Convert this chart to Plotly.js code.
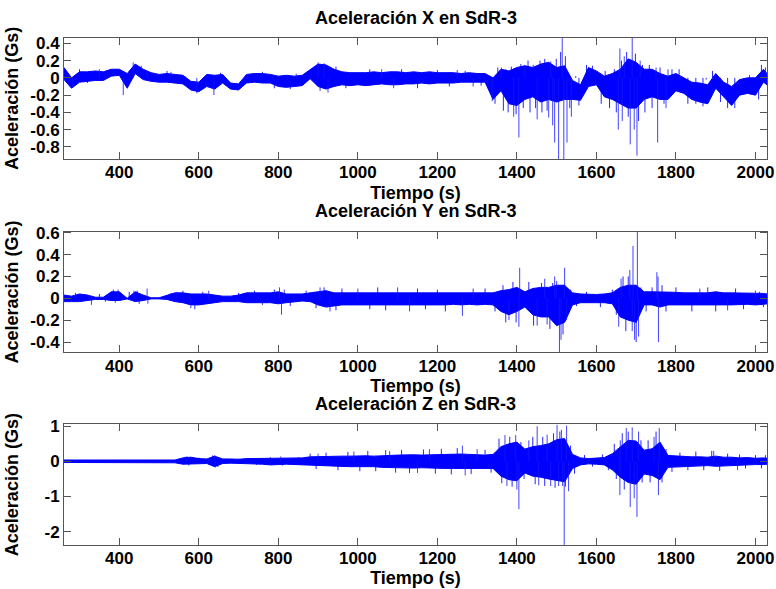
<!DOCTYPE html>
<html><head><meta charset="utf-8">
<script src="https://cdn.plot.ly/plotly-3.0.1.min.js"></script>
<style>html,body{margin:0;padding:0;background:#fff}#chart{width:776px;height:589px}</style>
</head><body><div id="chart"></div>
<script>
// Time grid (s) at which the dense-band envelopes were read
const tGrid = [261,280,300,320,340,360,380,400,420,440,
  460,480,500,520,540,560,580,600,620,640,
  660,680,700,720,740,760,780,800,820,840,
  860,880,900,920,940,960,980,1000,1020,1040,
  1060,1080,1100,1120,1140,1160,1180,1200,1220,1240,
  1260,1280,1300,1320,1340,1360,1380,1400,1420,1440,
  1460,1480,1500,1520,1540,1560,1580,1600,1620,1640,
  1660,1680,1700,1720,1740,1760,1780,1800,1820,1840,
  1860,1880,1900,1920,1940,1960,1980,2000,2020,2029];

// ---------- Acceleration X ----------
const xHi = [0.12,0.00,0.07,0.07,0.08,0.07,0.10,0.10,0.05,0.16,
  0.10,0.06,0.04,0.05,0.04,0.03,-0.04,-0.05,0.04,0.03,
  0.04,-0.06,-0.07,0.04,0.05,0.05,0.04,0.02,0.03,0.02,
  0.03,0.10,0.16,0.15,0.10,0.07,0.06,0.06,0.06,0.07,
  0.06,0.07,0.07,0.06,0.07,0.06,0.07,0.06,0.06,0.06,
  0.05,0.06,0.05,0.05,0.00,0.10,0.08,0.12,0.14,0.12,
  0.16,0.18,0.12,0.14,-0.03,-0.08,0.12,0.08,0.02,0.05,
  0.10,0.22,0.18,0.10,0.10,0.05,0.02,0.05,0.00,-0.05,
  -0.06,-0.08,0.05,-0.05,-0.10,-0.02,0.00,0.00,0.10,0.05];
const xLo = [-0.02,-0.12,-0.05,-0.04,-0.03,-0.03,0.02,0.03,-0.12,0.05,
  -0.02,-0.04,-0.05,-0.05,-0.06,-0.07,-0.14,-0.16,-0.10,-0.13,
  -0.06,-0.13,-0.14,-0.06,-0.05,-0.06,-0.06,-0.10,-0.11,-0.10,
  -0.09,-0.01,-0.10,-0.13,-0.10,-0.08,-0.09,-0.08,-0.09,-0.08,
  -0.07,-0.08,-0.08,-0.07,-0.07,-0.06,-0.07,-0.06,-0.06,-0.06,
  -0.05,-0.05,-0.05,-0.05,-0.25,-0.15,-0.30,-0.32,-0.25,-0.22,
  -0.28,-0.25,-0.28,-0.25,-0.25,-0.26,-0.10,-0.08,-0.22,-0.25,
  -0.30,-0.35,-0.35,-0.25,-0.22,-0.25,-0.25,-0.15,-0.18,-0.25,
  -0.28,-0.30,-0.12,-0.22,-0.32,-0.20,-0.18,-0.20,-0.05,-0.08];
// large isolated spikes
const xSpkT = [282,350,410,435,470,530,595,638,845,900,
  915,925,1060,1090,1250,1290,1338,1361,1392,1405,
  1420,1451,1480,1485,1490,1495,1505,1514,1518,1526,
  1537,1659,1655,1665,1670,1685,1690,1695,1702,1710,
  1750,1754,1775,1780];
const xSpkV = [-0.11,0.1,-0.2,0.18,0.08,0.07,-0.18,-0.2,0.05,0.18,
  0.17,-0.17,0.1,-0.12,0.09,-0.1,-0.27,0.12,-0.45,-0.69,
  0.15,-0.48,-0.46,0.19,-0.55,-0.75,-0.94,0.465,-0.94,-0.75,
  -0.45,0.34,-0.6,-0.5,0.25,-0.77,0.465,-0.6,-0.9,0.2,
  0.12,-0.75,-0.35,0.1];
// small fringe peaks around the band
const xFrT = [300,320,455,520,565,655,760,790,830,870,
  905,945,970,1030,1110,1150,1200,1230,1270,1310,
  1345,1352,1366,1372,1378,1386,1398,1410,1416,1428,
  1433,1441,1447,1458,1463,1470,1476,1499,1510,1522,
  1533,1548,1556,1575,1590,1612,1622,1633,1645,1650,
  1663,1676,1680,1698,1706,1716,1722,1733,1740,1760,
  1770,1790,1808,1830,1850,1868,1876,1892,1912,1930,
  1948,1966,1985,2008,2015,2025];
const xFrV = [0.1,-0.06,0.14,0.08,0.02,0.06,0.07,-0.12,-0.13,0.05,
  -0.15,0.13,-0.12,0.1,0.1,-0.12,0.09,-0.1,0.08,-0.09,
  -0.3,0.12,-0.38,0.1,-0.4,0.13,-0.42,0.16,-0.35,0.2,
  -0.4,0.15,-0.35,0.2,-0.4,0.22,-0.38,0.22,0.3,0.25,
  -0.35,0.02,-0.32,0.15,0.14,-0.3,0.08,-0.35,0.1,-0.4,
  0.2,0.3,-0.45,0.28,-0.5,0.15,-0.4,0.15,-0.35,0.12,
  -0.3,0.1,0.1,-0.3,-0.3,-0.33,-0.02,0.08,-0.28,-0.35,
  -0.35,0.0,0.03,-0.25,0.15,0.12];

// ---------- Acceleration Y ----------
const yHi = [0.03,0.02,0.04,0.03,0.01,0.01,0.06,0.06,0.00,0.06,
  0.03,0.005,0.005,0.03,0.05,0.05,0.04,0.04,0.04,0.03,
  0.02,0.02,0.03,0.05,0.05,0.05,0.05,0.06,0.04,0.04,
  0.04,0.05,0.06,0.07,0.05,0.05,0.05,0.05,0.05,0.05,
  0.05,0.05,0.05,0.05,0.05,0.05,0.05,0.05,0.05,0.05,
  0.05,0.05,0.05,0.05,0.05,0.07,0.08,0.10,0.06,0.09,
  0.10,0.10,0.12,0.12,0.05,0.04,0.035,0.035,0.04,0.05,
  0.10,0.12,0.12,0.06,0.06,0.06,0.055,0.055,0.05,0.05,
  0.055,0.05,0.06,0.05,0.05,0.05,0.05,0.05,0.045,0.04];
const yLo = [-0.03,-0.03,-0.03,-0.02,-0.01,-0.01,-0.02,-0.02,-0.005,-0.03,
  -0.02,-0.005,-0.005,-0.01,-0.03,-0.04,-0.06,-0.06,-0.05,-0.04,
  -0.03,-0.03,-0.03,-0.04,-0.04,-0.04,-0.04,-0.05,-0.04,-0.03,
  -0.025,-0.03,-0.06,-0.08,-0.07,-0.06,-0.06,-0.06,-0.06,-0.06,
  -0.06,-0.06,-0.055,-0.06,-0.06,-0.06,-0.055,-0.06,-0.06,-0.055,
  -0.06,-0.055,-0.06,-0.055,-0.06,-0.12,-0.15,-0.12,-0.08,-0.15,
  -0.17,-0.17,-0.25,-0.22,-0.06,-0.04,-0.04,-0.04,-0.04,-0.05,
  -0.17,-0.20,-0.22,-0.06,-0.06,-0.08,-0.06,-0.06,-0.06,-0.06,
  -0.06,-0.055,-0.06,-0.06,-0.06,-0.06,-0.055,-0.06,-0.055,-0.05];
const ySpkT = [290,330,397,437,470,472,545,580,625,803,
  808,815,905,930,1000,1100,1130,1263,1290,1380,
  1405,1407,1451,1470,1476,1495,1500,1507,1511,1520,
  1525,1656,1662,1684,1690,1692,1696,1703,1706,1752,
  1755,1756,1860,1930,2000];
const ySpkV = [0.05,-0.06,0.08,0.07,0.09,-0.05,0.06,-0.09,0.07,0.1,
  -0.15,0.08,0.1,-0.12,0.09,0.1,-0.12,-0.16,0.09,-0.2,
  -0.26,0.28,-0.25,0.18,-0.24,0.2,0.16,-0.494,-0.38,0.28,
  -0.2,-0.26,0.18,0.26,-0.3,0.48,-0.38,0.61,-0.35,0.24,
  0.2,-0.4,0.09,-0.11,0.07];
const yFrT = [350,365,385,390,425,445,450,530,560,590,
  610,700,740,760,790,830,870,895,915,945,
  960,1030,1050,1070,1150,1170,1200,1220,1320,1345,
  1365,1372,1390,1398,1430,1442,1462,1483,1490,1516,
  1535,1550,1575,1610,1640,1650,1667,1674,1680,1700,
  1712,1725,1740,1765,1775,1800,1840,1880,1900,1950,
  1970,2010,2020];
const yFrV = [0.04,-0.03,0.08,-0.04,0.06,0.07,-0.05,0.05,0.07,-0.1,
  0.06,0.05,0.07,-0.06,0.08,-0.07,0.07,-0.09,0.1,-0.11,
  0.09,-0.1,0.1,-0.11,0.09,-0.1,0.08,-0.12,0.09,-0.12,
  0.12,-0.22,0.15,-0.22,0.15,-0.25,0.14,-0.28,0.14,-0.33,
  0.08,-0.07,0.06,-0.08,0.08,-0.15,0.2,-0.3,0.2,-0.4,
  0.1,-0.12,0.1,0.12,-0.12,0.1,-0.12,0.1,-0.12,0.09,
  -0.1,0.06,-0.08];

// ---------- Acceleration Z ----------
const zHi = [0.04,0.04,0.03,0.04,0.04,0.03,0.04,0.04,0.03,0.04,
  0.04,0.04,0.05,0.04,0.04,0.10,0.12,0.08,0.07,0.15,
  0.07,0.07,0.06,0.08,0.08,0.09,0.10,0.10,0.09,0.10,
  0.10,0.13,0.14,0.13,0.15,0.15,0.15,0.16,0.16,0.15,
  0.17,0.17,0.18,0.19,0.19,0.18,0.19,0.18,0.19,0.20,
  0.21,0.20,0.19,0.18,0.20,0.42,0.50,0.55,0.35,0.42,
  0.45,0.50,0.62,0.65,0.20,0.10,0.08,0.09,0.11,0.22,
  0.42,0.60,0.58,0.32,0.36,0.55,0.17,0.15,0.14,0.13,
  0.13,0.12,0.15,0.12,0.12,0.10,0.11,0.09,0.10,0.09];
const zLo = [-0.03,-0.04,-0.03,-0.04,-0.04,-0.03,-0.04,-0.04,-0.03,-0.04,
  -0.04,-0.04,-0.05,-0.04,-0.04,-0.08,-0.09,-0.07,-0.06,-0.15,
  -0.06,-0.05,-0.06,-0.06,-0.07,-0.08,-0.10,-0.09,-0.08,-0.09,
  -0.10,-0.12,-0.13,-0.13,-0.15,-0.14,-0.15,-0.15,-0.16,-0.15,
  -0.17,-0.17,-0.18,-0.19,-0.19,-0.18,-0.20,-0.19,-0.20,-0.20,
  -0.21,-0.20,-0.20,-0.19,-0.20,-0.42,-0.52,-0.55,-0.33,-0.42,
  -0.45,-0.50,-0.55,-0.58,-0.20,-0.10,-0.07,-0.08,-0.10,-0.24,
  -0.45,-0.60,-0.65,-0.36,-0.40,-0.52,-0.17,-0.15,-0.13,-0.12,
  -0.13,-0.12,-0.14,-0.11,-0.12,-0.10,-0.10,-0.09,-0.09,-0.08];
const zSpkT = [570,640,642,806,900,990,1080,1150,1180,1263,
  1270,1300,1370,1375,1397,1400,1405,1430,1451,1455,
  1476,1485,1501,1505,1512,1515,1519,1525,1530,1659,
  1660,1675,1685,1690,1695,1702,1706,1745,1756,1758,
  1895,1955];
const zSpkV = [0.15,0.17,-0.17,0.14,0.22,0.28,0.3,-0.33,0.35,0.45,
  -0.4,0.35,0.75,-0.7,0.75,-0.8,-1.36,0.6,1.0,-0.68,
  0.76,-0.7,1.04,-0.7,0.9,-0.7,-2.38,1.02,-0.85,-0.96,
  0.6,0.95,-1.3,0.97,-1.05,-1.58,0.85,0.7,-0.96,0.95,
  0.3,-0.25];
const zFrT = [565,575,600,635,648,700,745,780,810,850,
  880,895,920,950,975,1005,1025,1045,1070,1095,
  1110,1130,1165,1195,1210,1235,1250,1285,1320,1335,
  1355,1362,1382,1388,1410,1418,1440,1446,1465,1470,
  1492,1496,1508,1522,1535,1545,1570,1590,1615,1630,
  1645,1650,1665,1670,1680,1712,1715,1730,1735,1750,
  1765,1775,1790,1810,1830,1850,1870,1890,1910,1930,
  1960,1975,2000,2015,2025];
const zFrV = [0.13,-0.12,0.11,0.17,-0.16,0.08,-0.1,0.12,-0.12,0.12,
  0.22,-0.22,0.25,-0.25,0.27,-0.28,0.3,-0.28,0.32,-0.32,
  0.33,-0.33,0.34,-0.35,0.36,-0.37,0.38,-0.36,0.33,-0.32,
  0.65,-0.62,0.7,-0.72,0.55,-0.5,0.7,-0.65,0.7,-0.7,
  0.8,-0.75,0.85,-0.72,0.45,-0.35,0.18,-0.15,0.2,-0.25,
  0.5,-0.5,0.8,-0.8,0.85,0.6,-0.6,0.6,-0.6,0.85,
  -0.6,0.35,-0.3,0.25,-0.25,0.28,-0.25,0.3,-0.27,0.22,
  0.2,-0.2,0.18,-0.2,0.18];

// ---------- Titles, ticks, ranges ----------
const titles = ['Aceleración X en SdR-3','Aceleración Y en SdR-3','Aceleración Z en SdR-3'];
const xTitle = 'Tiempo (s)';
const yTitle = 'Aceleración (Gs)';
const xTickVals = [400,600,800,1000,1200,1400,1600,1800,2000];
const xTickText = ['400','600','800','1000','1200','1400','1600','1800','2000'];
const y1TickVals = [-0.8,-0.6,-0.4,-0.2,0,0.2,0.4];
const y1TickText = ['-0.8','-0.6','-0.4','-0.2','0','0.2','0.4'];
const y2TickVals = [-0.4,-0.2,0,0.2,0.4,0.6];
const y2TickText = ['-0.4','-0.2','0','0.2','0.4','0.6'];
const y3TickVals = [-2,-1,0,1];
const y3TickText = ['-2','-1','0','1'];
const xRange = [261,2029];
const y1Range = [-0.94,0.465];
const y2Range = [-0.494,0.61];
const y3Range = [-2.38,1.057];

const BLUE = '#0000ff';
const F = 'Liberation Sans, Arial, Helvetica, sans-serif';

function band(t, hi, lo, xa, ya) {
  return {type:'scatter', mode:'lines', xaxis:xa, yaxis:ya, hoverinfo:'skip', showlegend:false,
    x: t.concat(t.slice().reverse()), y: hi.concat(lo.slice().reverse()),
    fill:'toself', fillcolor:BLUE, line:{color:BLUE, width:1}};
}
function spikes(t, v, xa, ya, col) {
  const x = [], y = [];
  for (let i = 0; i < t.length; i++) { x.push(t[i], t[i], null); y.push(0, v[i], null); }
  return {type:'scatter', mode:'lines', xaxis:xa, yaxis:ya, hoverinfo:'skip', showlegend:false,
    x:x, y:y, connectgaps:false, line:{color:col, width:1}};
}

const SPK = 'rgba(20,20,255,0.8)';
const FR = 'rgba(0,0,255,0.85)';
const data = [
  band(tGrid, xHi, xLo, 'x', 'y'), spikes(xFrT, xFrV, 'x', 'y', FR), spikes(xSpkT, xSpkV, 'x', 'y', SPK),
  band(tGrid, yHi, yLo, 'x2', 'y2'), spikes(yFrT, yFrV, 'x2', 'y2', FR), spikes(ySpkT, ySpkV, 'x2', 'y2', SPK),
  band(tGrid, zHi, zLo, 'x3', 'y3'), spikes(zFrT, zFrV, 'x3', 'y3', FR), spikes(zSpkT, zSpkV, 'x3', 'y3', SPK)
];

const AX = '#555';
const tickFont = {family:F, size:17, weight:'bold', color:'#000'};
const titleFont = {family:F, size:18, weight:'bold', color:'#000'};
function xAxis(anchor) {
  return {anchor:anchor, range:xRange, tickmode:'array', tickvals:xTickVals, ticktext:xTickText,
    ticks:'inside', ticklen:7, tickcolor:AX, showline:true, linecolor:AX, linewidth:1, mirror:'ticks',
    showgrid:false, zeroline:false, tickfont:tickFont, ticklabelstandoff:-2,
    title:{text:xTitle, font:titleFont, standoff:4}};
}
function yAxis(anchor, dom, range, tv, tt) {
  return {anchor:anchor, domain:dom, range:range, tickmode:'array', tickvals:tv, ticktext:tt,
    ticks:'inside', ticklen:7, tickcolor:AX, showline:true, linecolor:AX, linewidth:1, mirror:'ticks',
    showgrid:false, zeroline:false, tickfont:tickFont,
    title:{text:yTitle, font:titleFont}};
}
function subTitle(text, y) {
  return {text:text, x:0.5, y:y, xref:'paper', yref:'paper', xanchor:'center', yanchor:'middle',
    showarrow:false, font:titleFont};
}

const layout = {
  width:776, height:589, margin:{l:64, r:9, t:10, b:10},
  paper_bgcolor:'#fff', plot_bgcolor:'#fff', showlegend:false, hovermode:false,
  xaxis: xAxis('y'), xaxis2: xAxis('y2'), xaxis3: xAxis('y3'),
  yaxis: yAxis('x', [0.7381,0.9513], y1Range, y1TickVals, y1TickText),
  yaxis2: yAxis('x2', [0.3984,0.6104], y2Range, y2TickVals, y2TickText),
  yaxis3: yAxis('x3', [0.0598,0.2719], y3Range, y3TickVals, y3TickText),
  annotations: [subTitle(titles[0], 0.9868), subTitle(titles[1], 0.6467), subTitle(titles[2], 0.3076)]
};

Plotly.newPlot('chart', data, layout, {staticPlot:true, displayModeBar:false});
</script>
</body></html>
